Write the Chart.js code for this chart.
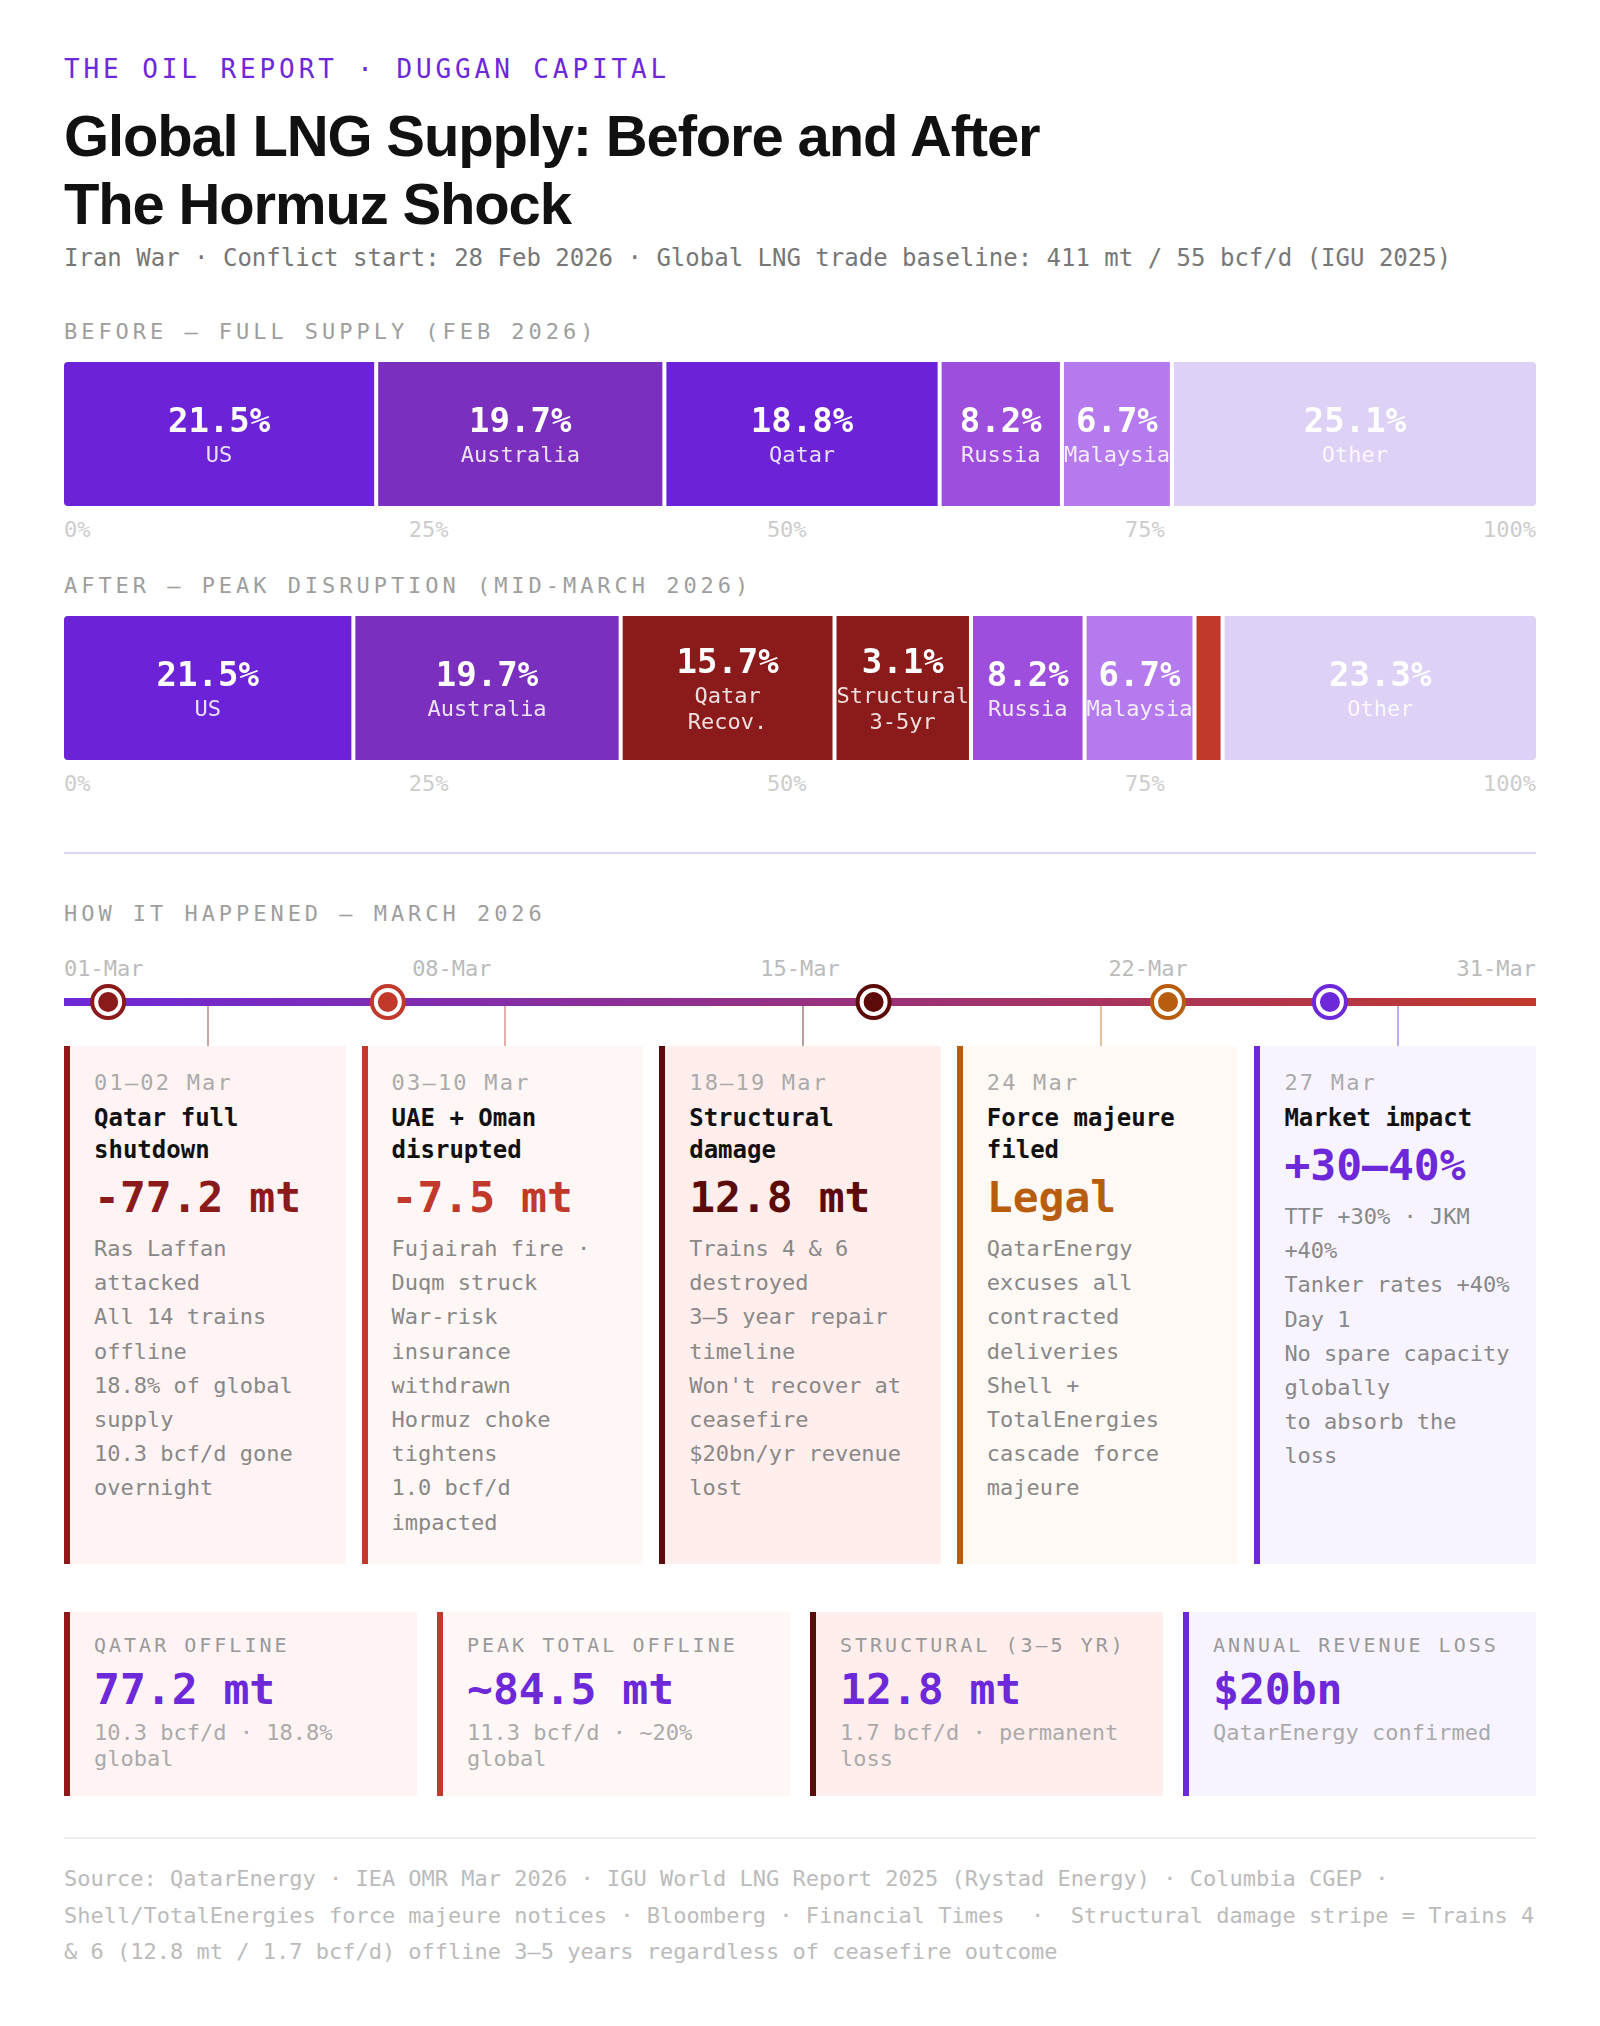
<!DOCTYPE html>
<html lang="en">
<head>
<meta charset="utf-8">
<title>Global LNG Supply: Before and After The Hormuz Shock</title>
<script src="https://cdn.jsdelivr.net/npm/chart.js@4.4.1/dist/chart.umd.min.js"></script>
<style>
*{box-sizing:border-box;margin:0;padding:0}
html,body{background:#fff}
body{width:1600px;height:2026px;position:relative;overflow:hidden;font-family:'DejaVu Sans Mono',monospace;color:#111}
.abs{position:absolute;left:64px;width:1472px}
.kicker{top:56px;font-size:26px;line-height:26px;letter-spacing:0.15em;color:#6D28D9;white-space:nowrap}
.title{top:102px;font-family:'Liberation Sans',Arial,Helvetica,sans-serif;font-weight:700;font-size:58px;line-height:68px;letter-spacing:-0.02em;color:#111}
.sub{top:246px;font-size:24px;line-height:24px;color:#777;white-space:nowrap}
.sec{font-size:22px;line-height:22px;letter-spacing:0.18em;color:#9E9E9E;white-space:nowrap}
.ticks{display:flex;justify-content:space-between;font-size:22px;line-height:22px;color:#CCC;white-space:nowrap}
.dates{color:#BBB}
.divider{height:2px;background:#DDD5F5}
.cards{top:1046px;display:flex;gap:16px;align-items:stretch}
.card{flex:1 1 0;min-width:0;position:relative;border-left:6px solid var(--a);background:var(--bg);padding:26px 22px 24px 24px}
.card::before{content:'';position:absolute;left:50%;top:-40px;width:2px;height:40px;background:var(--a);opacity:0.4;transform:translateX(-50%)}
.card .d{font-size:22px;line-height:22px;letter-spacing:0.1em;color:#AAA;white-space:nowrap}
.card .t{margin-top:8px;font-weight:700;font-size:24px;line-height:32px;color:#111}
.card .v{margin-top:10px;font-weight:700;font-size:43px;line-height:43px;color:var(--a);white-space:nowrap}
.card .b{margin-top:13px;font-size:22px;line-height:34.2px;color:#888}
.stats{top:1612px;display:flex;gap:20px;align-items:stretch}
.stat{flex:1 1 0;min-width:0;border-left:6px solid var(--a);background:var(--bg);padding:23px 24px 24px 24px}
.stat .l{font-size:20px;line-height:20px;letter-spacing:0.15em;color:#999;white-space:nowrap}
.stat .v{margin-top:12.5px;font-weight:700;font-size:43px;line-height:43px;color:#6D28D9;white-space:nowrap}
.stat .s{margin-top:9px;font-size:22px;line-height:26px;color:#AAA}
.fdiv{top:1837px;height:2px;background:#EEE}
.foot{top:1861px;font-size:22px;line-height:36.5px;color:#BBB}
canvas{display:block}
</style>
</head>
<body>
<div class="abs kicker">THE OIL REPORT · DUGGAN CAPITAL</div>
<div class="abs title">Global LNG Supply: Before and After<br>The Hormuz Shock</div>
<div class="abs sub">Iran War · Conflict start: 28 Feb 2026 · Global LNG trade baseline: 411 mt / 55 bcf/d (IGU 2025)</div>

<div class="abs sec" style="top:321px">BEFORE — FULL SUPPLY (FEB 2026)</div>
<div class="abs" style="top:362px;height:144px"><canvas id="beforeChart" width="1472" height="144"></canvas></div>
<div class="abs ticks" id="beforeTicks" style="top:519px"></div>

<div class="abs sec" style="top:575px">AFTER — PEAK DISRUPTION (MID-MARCH 2026)</div>
<div class="abs" style="top:616px;height:144px"><canvas id="afterChart" width="1472" height="144"></canvas></div>
<div class="abs ticks" id="afterTicks" style="top:773px"></div>

<div class="abs divider" style="top:852px"></div>

<div class="abs sec" style="top:903px">HOW IT HAPPENED — MARCH 2026</div>
<div class="abs ticks dates" id="dateTicks" style="top:958px"></div>

<div class="abs cards">
  <div class="card" style="--a:#8B1A1A;--bg:#FFF4F3">
    <div class="d">01–02 Mar</div>
    <div class="t">Qatar full shutdown</div>
    <div class="v">-77.2 mt</div>
    <div class="b">Ras Laffan attacked<br>All 14 trains offline<br>18.8% of global supply<br>10.3 bcf/d gone overnight</div>
  </div>
  <div class="card" style="--a:#C0392B;--bg:#FFF7F5">
    <div class="d">03–10 Mar</div>
    <div class="t">UAE + Oman disrupted</div>
    <div class="v">-7.5 mt</div>
    <div class="b">Fujairah fire · Duqm struck<br>War-risk insurance withdrawn<br>Hormuz choke tightens<br>1.0 bcf/d impacted</div>
  </div>
  <div class="card" style="--a:#5C0A0A;--bg:#FFEEEC">
    <div class="d">18–19 Mar</div>
    <div class="t">Structural damage</div>
    <div class="v">12.8 mt</div>
    <div class="b">Trains 4 &amp; 6 destroyed<br>3–5 year repair timeline<br>Won't recover at ceasefire<br>$20bn/yr revenue lost</div>
  </div>
  <div class="card" style="--a:#B85C0E;--bg:#FFF9F5">
    <div class="d">24 Mar</div>
    <div class="t">Force majeure filed</div>
    <div class="v">Legal</div>
    <div class="b">QatarEnergy excuses all contracted deliveries<br>Shell + TotalEnergies cascade force majeure</div>
  </div>
  <div class="card" style="--a:#6D28D9;--bg:#F8F4FF">
    <div class="d">27 Mar</div>
    <div class="t">Market impact</div>
    <div class="v">+30–40%</div>
    <div class="b">TTF +30% · JKM +40%<br>Tanker rates +40% Day 1<br>No spare capacity globally<br>to absorb the loss</div>
  </div>
</div>

<div class="abs" style="left:60px;width:1480px;top:982px;height:40px"><canvas id="timelineChart" width="1480" height="40"></canvas></div>

<div class="abs stats">
  <div class="stat" style="--a:#8B1A1A;--bg:#FFF4F3">
    <div class="l">QATAR OFFLINE</div>
    <div class="v">77.2 mt</div>
    <div class="s">10.3 bcf/d · 18.8% global</div>
  </div>
  <div class="stat" style="--a:#C0392B;--bg:#FFF7F5">
    <div class="l">PEAK TOTAL OFFLINE</div>
    <div class="v">~84.5 mt</div>
    <div class="s">11.3 bcf/d · ~20% global</div>
  </div>
  <div class="stat" style="--a:#5C0A0A;--bg:#FFEEEC">
    <div class="l">STRUCTURAL (3–5 YR)</div>
    <div class="v">12.8 mt</div>
    <div class="s">1.7 bcf/d · permanent loss</div>
  </div>
  <div class="stat" style="--a:#6D28D9;--bg:#F8F4FF">
    <div class="l">ANNUAL REVENUE LOSS</div>
    <div class="v">$20bn</div>
    <div class="s">QatarEnergy confirmed</div>
  </div>
</div>

<div class="abs fdiv"></div>
<div class="abs foot">Source: QatarEnergy · IEA OMR Mar 2026 · IGU World LNG Report 2025 (Rystad Energy) · Columbia CGEP · Shell/TotalEnergies force majeure notices · Bloomberg · Financial Times &nbsp;·&nbsp; Structural damage stripe = Trains 4 &amp; 6 (12.8 mt / 1.7 bcf/d) offline 3–5 years regardless of ceasefire outcome</div>

<script>
// ---------- DATA ----------
const beforeSegments = ['US', 'Australia', 'Qatar', 'Russia', 'Malaysia', 'Other'];
const beforeShares   = [21.5, 19.7, 18.8, 8.2, 6.7, 25.1];
const beforeColors   = ['#6C22D6', '#7B2FBE', '#6C22D6', '#9D4EDD', '#B57BEE', '#DDD1F5'];

const afterSegments  = ['US', 'Australia', 'Qatar\nRecov.', 'Structural\n3-5yr', 'Russia', 'Malaysia', 'UAE + Oman', 'Other'];
const afterShares    = [21.5, 19.7, 15.7, 3.1, 8.2, 6.7, 1.8, 23.3];
const afterColors    = ['#6C22D6', '#7B2FBE', '#8B1A1A', '#8B1A1A', '#9D4EDD', '#B57BEE', '#C0392B', '#DDD1F5'];
const afterHidden    = ['UAE + Oman'];   // stripe drawn without a text label

const shareTicks     = ['0%', '25%', '50%', '75%', '100%'];
const timelineTicks  = ['01-Mar', '08-Mar', '15-Mar', '22-Mar', '31-Mar'];
const eventNames     = ['Qatar full shutdown', 'UAE + Oman disrupted', 'Structural damage', 'Force majeure filed', 'Market impact'];
const eventPositions = [3, 22, 55, 75, 86];   // % along the March track
const eventColors    = ['#8B1A1A', '#C0392B', '#5C0A0A', '#B85C0E', '#6D28D9'];

// ---------- tick rows ----------
function fillTicks(id, labels){
  const el = document.getElementById(id);
  labels.forEach(t => { const s = document.createElement('span'); s.textContent = t; el.appendChild(s); });
}
fillTicks('beforeTicks', shareTicks);
fillTicks('afterTicks', shareTicks);
fillTicks('dateTicks', timelineTicks);

// ---------- segmented share bars ----------
const MONO = "'DejaVu Sans Mono', monospace";
const PCT_FONT = 'bold 34px ' + MONO;
const NAME_FONT = '22px ' + MONO;
const GAP = 4;
const mctx = document.createElement('canvas').getContext('2d');
function textW(font, s){ mctx.font = font; return mctx.measureText(s).width; }

// distribute width like a flex row: grow by share, never narrower than its label
function flexWidths(vals, mins, total, gap){
  const n = vals.length, avail = total - gap * (n - 1);
  const size = new Array(n).fill(0), frozen = new Array(n).fill(false);
  for (let it = 0; it <= n; it++){
    let used = 0, grow = 0;
    for (let i = 0; i < n; i++){ if (frozen[i]) used += size[i]; else grow += vals[i]; }
    const free = avail - used;
    for (let i = 0; i < n; i++) if (!frozen[i]) size[i] = free * vals[i] / grow;
    let viol = false;
    for (let i = 0; i < n; i++) if (!frozen[i] && size[i] < mins[i]){ size[i] = mins[i]; frozen[i] = true; viol = true; }
    if (!viol) break;
  }
  return size;
}

const segLabels = {
  id: 'segLabels',
  afterDatasetsDraw(chart){
    const ctx = chart.ctx;
    ctx.save();
    ctx.textAlign = 'center';
    ctx.textBaseline = 'alphabetic';
    chart.data.datasets.forEach((ds, i) => {
      if (!ds.showText) return;
      const el = chart.getDatasetMeta(i).data[0];
      const cx = (el.x + el.base) / 2, cy = el.y;
      const lines = ds.label.split('\n');
      const base = cy - 2 - 13 * (lines.length - 1);
      ctx.fillStyle = '#FFFFFF';
      ctx.font = PCT_FONT;
      ctx.fillText(ds.share.toFixed(1) + '%', cx, base);
      ctx.fillStyle = 'rgba(255,255,255,0.86)';
      ctx.font = NAME_FONT;
      lines.forEach((l, j) => ctx.fillText(l, cx, base + 30 + 26 * j));
    });
    ctx.restore();
  }
};

function shareBar(id, names, shares, colors, hidden){
  const canvas = document.getElementById(id);
  const W = canvas.width;
  const show = names.map(n => !hidden.includes(n));
  const mins = names.map((n, i) => show[i]
    ? Math.max(textW(PCT_FONT, shares[i].toFixed(1) + '%'), ...n.split('\n').map(l => textW(NAME_FONT, l)))
    : 0);
  const widths = flexWidths(shares, mins, W, GAP);
  let start = 0;
  const last = names.length - 1;
  const datasets = names.map((n, i) => {
    const ds = {
      label: n, share: shares[i], showText: show[i],
      data: [[start, start + widths[i]]],
      backgroundColor: colors[i],
      grouped: false, borderSkipped: false, inflateAmount: 0,
      barPercentage: 1, categoryPercentage: 1,
      borderRadius: {
        topLeft: i === 0 ? 4 : 0, bottomLeft: i === 0 ? 4 : 0,
        topRight: i === last ? 4 : 0, bottomRight: i === last ? 4 : 0
      }
    };
    start += widths[i] + GAP;
    return ds;
  });
  new Chart(canvas, {
    type: 'bar',
    data: { labels: ['share'], datasets },
    options: {
      indexAxis: 'y', responsive: false, animation: false, events: [],
      layout: { padding: 0, autoPadding: false },
      plugins: { legend: { display: false }, tooltip: { enabled: false } },
      scales: {
        x: { type: 'linear', min: 0, max: W, display: false },
        y: { display: false }
      }
    },
    plugins: [segLabels]
  });
}
shareBar('beforeChart', beforeSegments, beforeShares, beforeColors, []);
shareBar('afterChart', afterSegments, afterShares, afterColors, afterHidden);

// ---------- timeline ----------
function trackGradient(ctx){
  const chart = ctx.chart, area = chart.chartArea;
  if (!area) return '#6D28D9';
  const g = chart.ctx.createLinearGradient(area.left, 0, area.right, 0);
  g.addColorStop(0, '#6D28D9');
  g.addColorStop(1, '#C0392B');
  return g;
}
const eventPts = eventPositions.map((x, i) => ({ x, y: 0.5, name: eventNames[i] }));
new Chart(document.getElementById('timelineChart'), {
  type: 'scatter',
  data: {
    datasets: [
      { label: 'inner', data: eventPts, order: 1, showLine: false, clip: false,
        pointRadius: 12, pointBorderWidth: 4, pointBackgroundColor: eventColors, pointBorderColor: '#FFFFFF' },
      { label: 'outer', data: eventPts, order: 2, showLine: false, clip: false,
        pointRadius: 16, pointBorderWidth: 4, pointBackgroundColor: eventColors, pointBorderColor: eventColors },
      { label: 'track', data: [{ x: 0, y: 0.5 }, { x: 100, y: 0.5 }], order: 3, showLine: true,
        clip: { left: 0, right: 0, top: 20, bottom: 20 },
        borderWidth: 8, borderCapStyle: 'round', borderColor: trackGradient, pointRadius: 0 }
    ]
  },
  options: {
    responsive: false, animation: false, events: [],
    layout: { padding: { left: 4, right: 4, top: 0, bottom: 0 }, autoPadding: false },
    plugins: { legend: { display: false }, tooltip: { enabled: false } },
    scales: {
      x: { type: 'linear', min: 0, max: 100, display: false },
      y: { type: 'linear', min: 0, max: 1, display: false }
    }
  }
});
</script>
</body>
</html>
